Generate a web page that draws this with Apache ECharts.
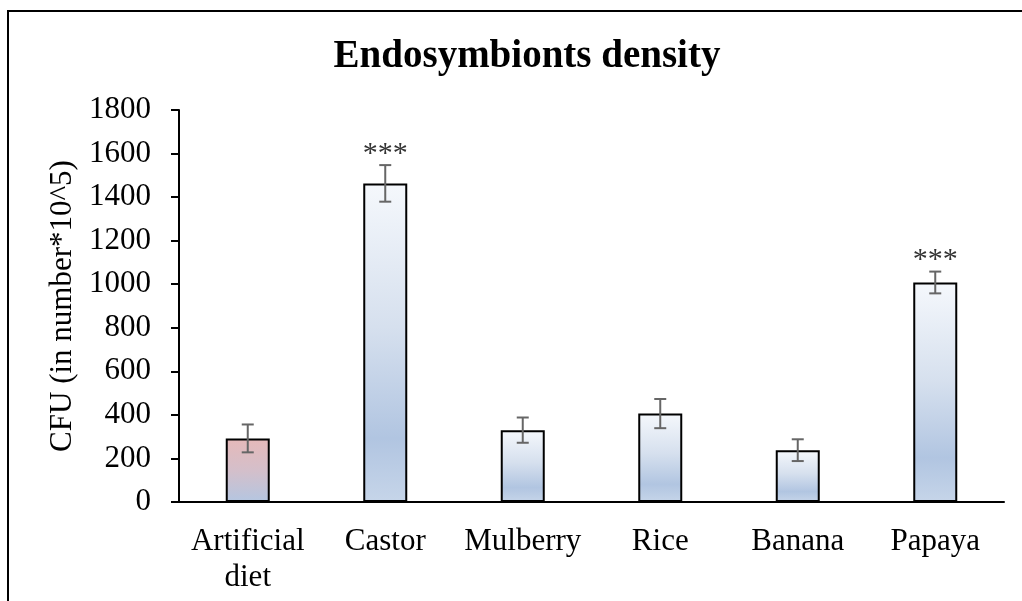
<!DOCTYPE html>
<html><head><meta charset="utf-8">
<script src="https://cdn.jsdelivr.net/npm/echarts@6/dist/echarts.min.js"></script>
<style>html,body{margin:0;padding:0;background:#fff}#c{width:1022px;height:601px}</style>
</head><body><div id="c"></div>
<script>
const categories = ['Artificial\ndiet', 'Castor', 'Mulberry', 'Rice', 'Banana', 'Papaya'];
const values = [292, 1463, 330, 406, 238, 1008];
const errors = [64, 84, 58, 67, 50, 50];
const significance = ['', '***', '', '', '', '***'];
const yTicks = [0, 200, 400, 600, 800, 1000, 1200, 1400, 1600, 1800];

const FONT = '"Liberation Serif", "Times New Roman", serif';
const blueGrad = {type:'linear',x:0,y:0,x2:0,y2:1,colorStops:[
  {offset:0,color:'#f5f8fc'},{offset:0.45,color:'#d6e0ee'},{offset:0.8,color:'#b1c5e1'},{offset:1,color:'#c6d5e9'}]};
const pinkGrad = {type:'linear',x:0,y:0,x2:0,y2:1,colorStops:[
  {offset:0,color:'#e6b9b9'},{offset:0.5,color:'#d4bfca'},{offset:1,color:'#b4c6e1'}]};

const chart = echarts.init(document.getElementById('c'));
chart.setOption({
  animation:false,
  backgroundColor:'#fff',
  title:{text:'Endosymbionts density',left:522,top:32,textAlign:'center',
    textStyle:{fontFamily:FONT,fontSize:39,fontWeight:'bold',color:'#000'}},
  grid:{left:179,right:18,top:110,bottom:99},
  xAxis:{type:'category',data:categories,
    axisLine:{lineStyle:{color:'#000',width:2}},axisTick:{show:false},
    axisLabel:{color:'#000',fontFamily:FONT,fontSize:31,lineHeight:36,margin:22,interval:0}},
  yAxis:{type:'value',min:yTicks[0],max:yTicks[yTicks.length-1],interval:200,
    name:'CFU (in number*10^5)',nameLocation:'middle',nameGap:90,
    nameTextStyle:{color:'#000',fontFamily:FONT,fontSize:31},
    splitLine:{show:false},
    axisLine:{show:true,lineStyle:{color:'#000',width:2}},
    axisTick:{show:true,length:8,lineStyle:{color:'#000',width:2}},
    axisLabel:{color:'#000',fontFamily:FONT,fontSize:31,margin:28,formatter:function(v){return String(v);}}},
  graphic:[{type:'polyline',shape:{points:[[8,601],[8,11],[1022,11]]},style:{stroke:'#000',lineWidth:2,fill:null}}],
  series:[
    {type:'bar',barWidth:44,
     data:values.map((v,i)=>({value:v,itemStyle:{color:i===0?pinkGrad:blueGrad}})),
     itemStyle:{borderColor:'#000',borderWidth:2}},
    {type:'custom',
     data:values.map((v,i)=>[i,v,errors[i],significance[i]]),
     renderItem:function(params,api){
       const x=api.value(0),v=api.value(1),e=api.value(2);
       const top=api.coord([x,v+e]),bot=api.coord([x,v-e]);
       const cx=top[0],hw=6;
       const st={stroke:'#666',lineWidth:2};
       const children=[
         {type:'line',shape:{x1:cx,y1:top[1],x2:cx,y2:bot[1]},style:st},
         {type:'line',shape:{x1:cx-hw,y1:top[1],x2:cx+hw,y2:top[1]},style:st},
         {type:'line',shape:{x1:cx-hw,y1:bot[1],x2:cx+hw,y2:bot[1]},style:st}];
       const s=significance[params.dataIndex];
       if(s){children.push({type:'text',style:{text:s,x:cx,y:top[1]-11,align:'center',verticalAlign:'middle',
         font:'30px '+FONT,fill:'#333'}});}
       return {type:'group',children:children};
     },z:5}
  ]
});
</script></body></html>
